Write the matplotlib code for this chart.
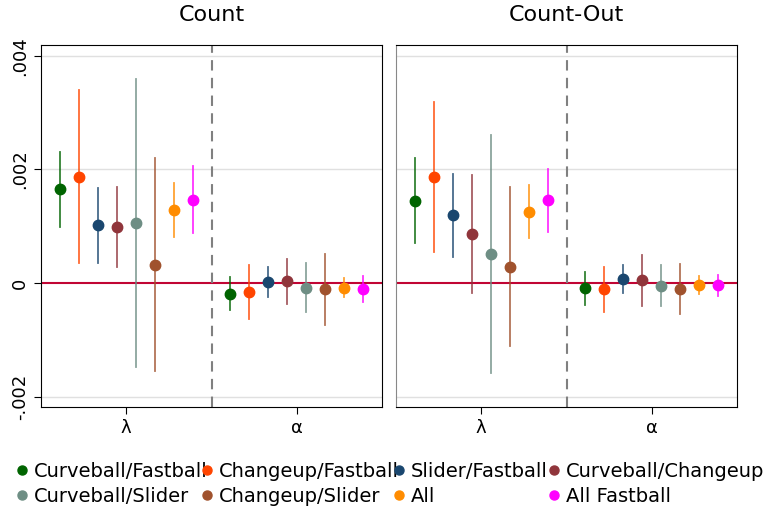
import matplotlib
matplotlib.use("Agg")
from matplotlib import pyplot as plt
from matplotlib.lines import Line2D

series = ["Curveball/Fastball", "Changeup/Fastball", "Slider/Fastball", "Curveball/Changeup",
          "Curveball/Slider", "Changeup/Slider", "All", "All Fastball"]
colors = ["#006400", "#ff4500", "#1a476f", "#90353b", "#6e8e84", "#a0522d", "#ff8c00", "#ff00ff"]
groups = ["λ", "α"]
panels = ["Count", "Count-Out"]

# point estimates [panel][group][series]
est = [
    [[0.00165, 0.00187, 0.00102, 0.00099, 0.00105, 0.00032, 0.00129, 0.00147],
     [-0.00019, -0.00016, 0.00002, 0.00004, -0.00008, -0.00010, -0.00008, -0.00010]],
    [[0.00145, 0.00187, 0.00119, 0.00086, 0.00051, 0.00029, 0.00126, 0.00146],
     [-0.00009, -0.00011, 0.00007, 0.00006, -0.00005, -0.00011, -0.00004, -0.00004]],
]
lo = [
    [[0.00099, 0.00035, 0.00036, 0.00029, -0.00148, -0.00154, 0.00082, 0.00089],
     [-0.00048, -0.00064, -0.00024, -0.00036, -0.00051, -0.00073, -0.00025, -0.00033]],
    [[0.00070, 0.00054, 0.00046, -0.00018, -0.00158, -0.00111, 0.00080, 0.00090],
     [-0.00038, -0.00051, -0.00018, -0.00040, -0.00041, -0.00055, -0.00019, -0.00023]],
]
hi = [
    [[0.00231, 0.00340, 0.00167, 0.00170, 0.00359, 0.00220, 0.00177, 0.00206],
     [0.00010, 0.00032, 0.00028, 0.00043, 0.00035, 0.00051, 0.00009, 0.00012]],
    [[0.00221, 0.00319, 0.00192, 0.00190, 0.00261, 0.00170, 0.00172, 0.00200],
     [0.00019, 0.00029, 0.00031, 0.00050, 0.00032, 0.00033, 0.00012, 0.00015]],
]

fig = plt.figure(figsize=(7.67, 5.12), dpi=100)
axes = [fig.add_axes([41 / 767, 1 - 407 / 512, 341 / 767, 362 / 512]),
        fig.add_axes([396 / 767, 1 - 407 / 512, 341 / 767, 362 / 512])]

step = 0.223
for p, ax in enumerate(axes):
    for yv in [-0.002, 0.002, 0.004]:
        ax.axhline(yv, color="#e0e0e0", lw=1, zorder=0)
    ax.axhline(0, color="#c10534", lw=1.5, zorder=1)
    ax.axvline(2, color="#808080", lw=1.5, ls=(0, (5, 3.5)), zorder=1)
    for g in range(2):
        center = 1 + 2 * g
        for i in range(len(series)):
            x = center + (i - 3.5) * step
            ax.plot([x, x], [lo[p][g][i], hi[p][g][i]], color=colors[i], lw=1.3, alpha=0.8, zorder=2)
            ax.plot(x, est[p][g][i], "o", color=colors[i], ms=7.5, zorder=3)
    ax.set_xlim(0, 4)
    ax.set_ylim(-0.00218, 0.00419)
    ax.set_xticks([1, 3])
    ax.set_xticklabels(groups, fontsize=13)
    ax.set_title(panels[p], fontsize=16, pad=17)
    ax.set_yticks([-0.002, 0, 0.002, 0.004])
    ax.tick_params(axis="both", direction="out", length=5)
    if p == 0:
        ax.set_yticklabels(["-.002", "0", ".002", ".004"], rotation=90, va="center", fontsize=13)
    else:
        ax.tick_params(axis="y", length=0)
        ax.set_yticklabels([])
        ax.spines["left"].set_color("#888888")

handles = [Line2D([], [], marker="o", ls="none", color=c, ms=6.5) for c in colors]
col_x = [1, 186, 378, 533]
for c in range(4):
    idx = [c, c + 4]
    leg = fig.legend([handles[k] for k in idx], [series[k] for k in idx],
                     loc="upper left", bbox_to_anchor=(col_x[c] / 767, 1 - 450 / 512),
                     frameon=False, fontsize=14, handletextpad=0.1, handlelength=1.0,
                     labelspacing=0.3, borderpad=0.1)

fig.savefig("out.png", dpi=100)
